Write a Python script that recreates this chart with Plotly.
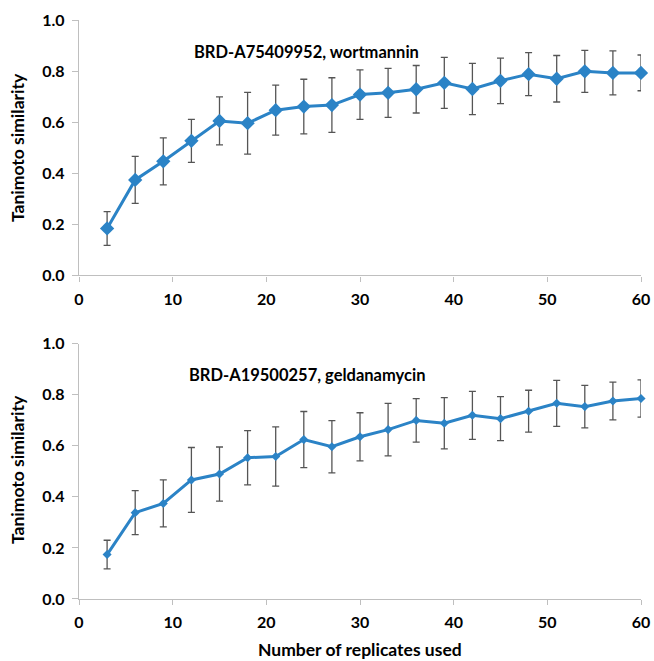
import plotly.graph_objects as go
from plotly.subplots import make_subplots

replicates = [3, 6, 9, 12, 15, 18, 21, 24, 27, 30, 33, 36, 39, 42, 45, 48, 51, 54, 57, 60]

wort_mean = [0.184, 0.374, 0.447, 0.527, 0.605, 0.596, 0.647, 0.661, 0.667, 0.708,
             0.715, 0.729, 0.754, 0.730, 0.762, 0.788, 0.770, 0.799, 0.793, 0.793]
wort_err = [0.066, 0.092, 0.092, 0.084, 0.094, 0.121, 0.098, 0.107, 0.107, 0.097,
            0.096, 0.093, 0.100, 0.100, 0.089, 0.084, 0.091, 0.082, 0.086, 0.070]

geld_mean = [0.174, 0.338, 0.374, 0.466, 0.489, 0.553, 0.558, 0.624, 0.596, 0.635,
             0.663, 0.699, 0.688, 0.719, 0.706, 0.735, 0.766, 0.753, 0.775, 0.785]
geld_err = [0.056, 0.086, 0.092, 0.127, 0.106, 0.106, 0.116, 0.110, 0.102, 0.094,
            0.103, 0.085, 0.100, 0.094, 0.086, 0.082, 0.090, 0.083, 0.074, 0.073]

titles = ["BRD-A75409952, wortmannin", "BRD-A19500257, geldanamycin"]
y_title = "Tanimoto similarity"
x_title = "Number of replicates used"
y_ticks = [0.0, 0.2, 0.4, 0.6, 0.8, 1.0]
x_ticks = [0, 10, 20, 30, 40, 50, 60]

blue = "#2B83C6"
font_family = "Lato, 'Open Sans', Arial, sans-serif"
tick_font = dict(family=font_family, size=16, color="#000000", weight="bold")
axis_title_font = dict(family=font_family, size=17.5, color="#000000", weight="bold")
title_font = dict(family=font_family, size=16.5, color="#000000", weight="bold")

fig = make_subplots(rows=2, cols=1, vertical_spacing=0.1175)

series = [(wort_mean, wort_err, 11), (geld_mean, geld_err, 7)]
for i, (m, e, ms) in enumerate(series, start=1):
    fig.add_trace(go.Scatter(
        x=replicates, y=m, mode="lines+markers",
        line=dict(color=blue, width=3),
        marker=dict(symbol="diamond", size=ms, color=blue),
        error_y=dict(type="data", array=e, visible=True, color="#555555",
                     thickness=1.3, width=3.5),
        showlegend=False,
        cliponaxis=False,
    ), row=i, col=1)

axis_common = dict(showline=True, linecolor="#BFBFBF", linewidth=1.3,
                   ticks="outside", tickcolor="#BFBFBF", tickwidth=1.3,
                   showgrid=False, zeroline=False, automargin=False,
                   tickfont=tick_font)

for i in (1, 2):
    fig.update_xaxes(range=[0, 60], tickvals=x_ticks, ticklen=5,
                     ticklabelstandoff=4, **axis_common, row=i, col=1)
    fig.update_yaxes(range=[0, 1.0], tickvals=y_ticks, tickformat=".1f", ticklen=6,
                     ticklabelstandoff=4, **axis_common, row=i, col=1)

ann = []
for txt, y in zip(titles, [0.9447, 0.387]):
    ann.append(dict(text=txt, x=0.405, y=y, xref="paper", yref="paper",
                    xanchor="center", yanchor="middle",
                    showarrow=False, font=title_font))
for y in [0.779, 0.2228]:
    ann.append(dict(text=y_title, x=-0.1085, y=y, xref="paper", yref="paper",
                    xanchor="center", yanchor="middle",
                    textangle=-90, showarrow=False, font=axis_title_font))
ann.append(dict(text=x_title, x=0.5, y=-0.0875, xref="paper", yref="paper",
                xanchor="center", yanchor="middle",
                showarrow=False, font=axis_title_font))

fig.update_layout(
    width=654, height=661,
    margin=dict(l=79, r=13, t=20, b=62),
    plot_bgcolor="white", paper_bgcolor="white",
    annotations=ann,
)

fig.write_html(
    "out.html",
    config={"displayModeBar": False},
    post_script="document.body.style.margin='0';document.body.style.overflow='hidden';",
)
